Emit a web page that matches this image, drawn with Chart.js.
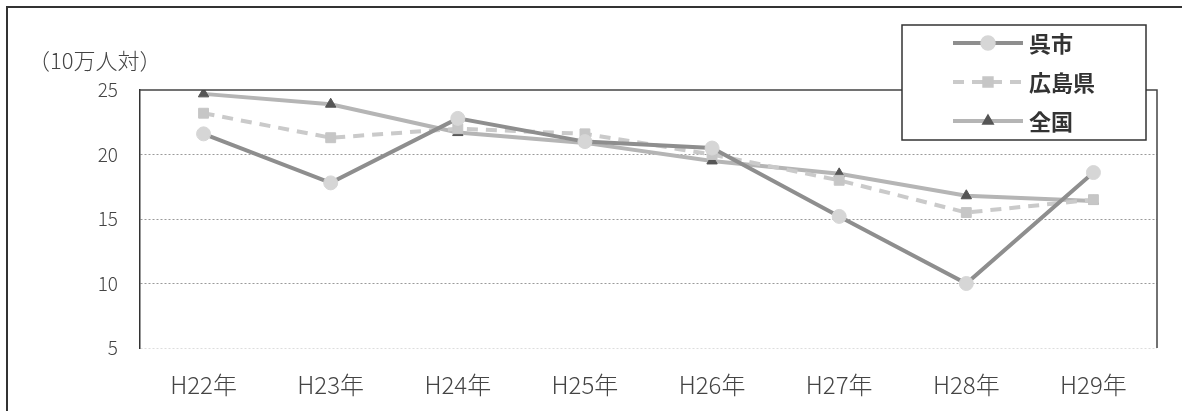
<!DOCTYPE html>
<html>
<head>
<meta charset="utf-8">
<script src="https://cdn.jsdelivr.net/npm/chart.js@4.4.1/dist/chart.umd.min.js"></script>
<style>
  html, body { margin: 0; padding: 0; background: #fff; }
  #wrap { width: 1182px; height: 411px; position: relative; }
</style>
</head>
<body>
<div id="wrap"><canvas id="c" width="1182" height="411"></canvas></div>
<script>
// 年次
const categories = ['H22年', 'H23年', 'H24年', 'H25年', 'H26年', 'H27年', 'H28年', 'H29年'];
// 10万人対の率
const kureValues      = [21.6, 17.8, 22.8, 21.0, 20.5, 15.2, 10.0, 18.6];
const hiroshimaValues = [23.2, 21.3, 22.0, 21.6, 20.0, 18.0, 15.5, 16.5];
const zenkokuValues   = [24.7, 23.9, 21.7, 20.9, 19.5, 18.5, 16.8, 16.4];
const seriesNames = ['呉市', '広島県', '全国'];
const yTicks = [5, 10, 15, 20, 25];
const unitLabel = '（10万人対）';

const FONT = '"Noto Sans CJK JP", "Noto Sans", sans-serif';

// 外枠・プロット枠・単位・凡例
const decorations = {
  id: 'decorations',
  beforeDraw(chart) {
    const ctx = chart.ctx;
    ctx.save();
    ctx.strokeStyle = '#333';
    ctx.lineWidth = 2;
    ctx.beginPath();
    ctx.moveTo(7, chart.height);
    ctx.lineTo(7, 7);
    ctx.lineTo(chart.width, 7);
    ctx.stroke();
    ctx.restore();
  },
  afterDatasetsDraw(chart) {
    const ctx = chart.ctx;
    const a = chart.chartArea;
    ctx.save();
    // プロット枠 (上・右)
    ctx.strokeStyle = '#444';
    ctx.lineWidth = 1.5;
    ctx.beginPath();
    ctx.moveTo(a.left, a.top);
    ctx.lineTo(a.right, a.top);
    ctx.lineTo(a.right, a.bottom);
    ctx.stroke();

    // 単位
    ctx.fillStyle = '#444';
    ctx.font = '300 22px ' + FONT;
    ctx.textBaseline = 'middle';
    ctx.textAlign = 'left';
    ctx.fillText(unitLabel, 28, 61);

    // 凡例
    const bx = a.right - 255, by = 25, bw = 244, bh = 115;
    ctx.fillStyle = '#fff';
    ctx.fillRect(bx, by, bw, bh);
    ctx.strokeStyle = '#333';
    ctx.lineWidth = 1.5;
    ctx.strokeRect(bx, by, bw, bh);
    const rows = [43, 82, 121];
    chart.data.datasets.forEach((ds, i) => {
      const y = by + rows[i] - 25;
      const x1 = bx + 51, x2 = bx + 121;
      ctx.save();
      ctx.strokeStyle = ds.borderColor;
      ctx.lineWidth = ds.borderWidth;
      ctx.setLineDash(ds.borderDash || []);
      ctx.beginPath();
      ctx.moveTo(x1, y);
      ctx.lineTo(x2, y);
      ctx.stroke();
      ctx.restore();
      ctx.save();
      ctx.fillStyle = ds.pointBackgroundColor;
      ctx.strokeStyle = ds.pointBorderColor;
      Chart.helpers.drawPoint(ctx, {
        pointStyle: ds.pointStyle,
        radius: ds.pointRadius,
        borderWidth: ds.pointBorderWidth,
        rotation: 0
      }, (x1 + x2) / 2, y);
      ctx.restore();
      ctx.fillStyle = '#333';
      ctx.font = 'bold 22px ' + FONT;
      ctx.textAlign = 'left';
      ctx.textBaseline = 'middle';
      ctx.fillText(ds.label, x2 + 6, y + 1);
    });
    ctx.restore();
  }
};

new Chart(document.getElementById('c'), {
  type: 'line',
  data: {
    labels: categories,
    datasets: [
      {
        label: seriesNames[0],
        data: kureValues,
        borderColor: '#8e8e8e',
        borderWidth: 4,
        pointStyle: 'circle',
        pointRadius: 7,
        pointBackgroundColor: '#d6d6d6',
        pointBorderColor: '#d6d6d6',
        pointBorderWidth: 1,
        tension: 0
      },
      {
        label: seriesNames[1],
        data: hiroshimaValues,
        borderColor: '#cacaca',
        borderWidth: 4,
        borderDash: [11, 8],
        pointStyle: 'rect',
        pointRadius: 7,
        pointBackgroundColor: '#c6c6c6',
        pointBorderColor: '#c6c6c6',
        pointBorderWidth: 1,
        tension: 0
      },
      {
        label: seriesNames[2],
        data: zenkokuValues,
        borderColor: '#b5b5b5',
        borderWidth: 4,
        pointStyle: 'triangle',
        pointRadius: 6,
        pointBackgroundColor: '#555',
        pointBorderColor: '#555',
        pointBorderWidth: 1,
        tension: 0
      }
    ]
  },
  options: {
    responsive: false,
    animation: false,
    layout: { padding: { left: 0, top: 90, right: 25, bottom: 0 } },
    plugins: {
      legend: { display: false },
      tooltip: { enabled: false }
    },
    scales: {
      x: {
        offset: true,
        grid: { display: false, drawTicks: false },
        border: { display: false },
        ticks: {
          color: '#444',
          font: { family: FONT, size: 24, weight: '300' },
          padding: 22,
          maxRotation: 0
        },
        afterFit(scale) { scale.height = 63; }
      },
      y: {
        min: 5,
        max: 25,
        afterBuildTicks(scale) { scale.ticks = yTicks.map(v => ({ value: v })); },
        grid: {
          drawTicks: false,
          color: ctx => ctx.tick && ctx.tick.value === 25 ? 'rgba(0,0,0,0)'
                      : (ctx.tick && ctx.tick.value === 5 ? '#dddddd' : '#9a9a9a'),
          lineWidth: 1
        },
        border: { display: true, color: '#333', width: 1.5, dash: [2, 2] },
        ticks: {
          color: '#444',
          font: { family: FONT, size: 19, weight: '300' },
          padding: 22
        },
        afterFit(scale) { scale.width = 140; }
      }
    }
  },
  plugins: [decorations]
});
</script>
</body>
</html>
